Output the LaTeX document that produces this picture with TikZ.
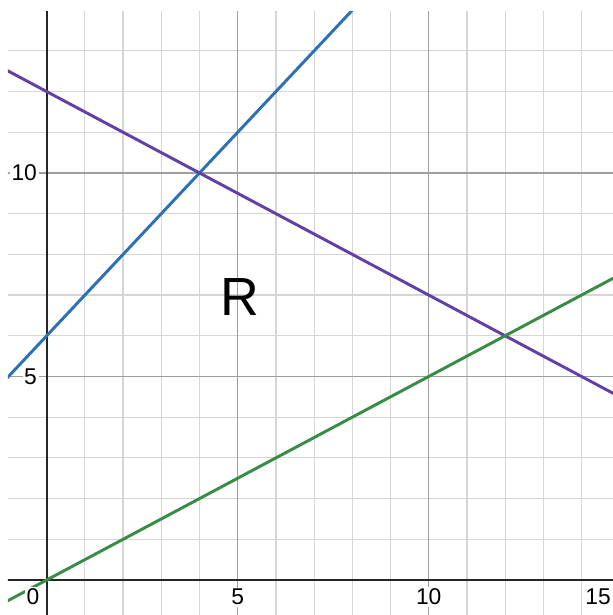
\documentclass[tikz,border=0pt]{standalone}
\usepackage{fontspec}
\setmainfont{Liberation Sans}
\usetikzlibrary{positioning}
\definecolor{curveblue}{HTML}{2D70B3}
\definecolor{curvegreen}{HTML}{388C46}
\definecolor{curvepurple}{HTML}{6042A6}
\tikzstyle{minorgrid} = [draw=black!16, line width=0.45pt]
\tikzstyle{majorgrid} = [draw=black!38, line width=0.5pt]
\tikzstyle{axisline} = [draw=black!85, line width=0.7pt]
\tikzstyle{curve} = [line width=1.1pt]
\tikzstyle{ticklabel} = [fill=white, inner sep=0.6pt, font=\fontsize{8.5}{9}\selectfont]

\begin{document}
\begin{tikzpicture}[x=0.5cm, y=0.5327cm]

\useasboundingbox (-1.222,-0.86) rectangle (14.82,14.25);

\begin{scope}
\clip (-1.013,-0.86) rectangle (14.82,13.96);
% grid
\foreach \i in {1,2,3,4,6,7,8,9,11,12,13,14} \draw [minorgrid] (\i,-1) -- (\i,14);
\foreach \j in {1,2,3,4,6,7,8,9,11,12,13} \draw [minorgrid] (-1.1,\j) -- (15,\j);
\foreach \k in {5,10} {
  \draw [majorgrid] (\k,-1) -- (\k,14);
  \draw [majorgrid] (-1.1,\k) -- (15,\k);
}
% axes
\draw [axisline] (0,-1) -- (0,14);
\draw [axisline] (-1.1,0) -- (15,0);

% lines
\draw [curve, curveblue] (-1.1,4.9) -- (8.1,14.1);
\draw [curve, curvepurple] (-1.1,12.55) -- (15,4.5);
\draw [curve, curvegreen] (-1.1,-0.55) -- (15,7.5);
\end{scope}

% tick labels
\node (xzero) [ticklabel] at (-0.36,-0.42) {0};
\node (xfive) [ticklabel] at (5,-0.42) {5};
\node (xten) [ticklabel] at (10,-0.42) {10};
\node (xfifteen) [ticklabel, anchor=east] at (14.82,-0.42) {15};
\node (yfive) [ticklabel, anchor=east] at (-0.2,5) {5};
\node (yten) [ticklabel, anchor=east] at (-0.2,10) {10};

% region
\node (region) at (5.05,6.95) {\fontsize{20}{20}\selectfont R};

\end{tikzpicture}
\end{document}
